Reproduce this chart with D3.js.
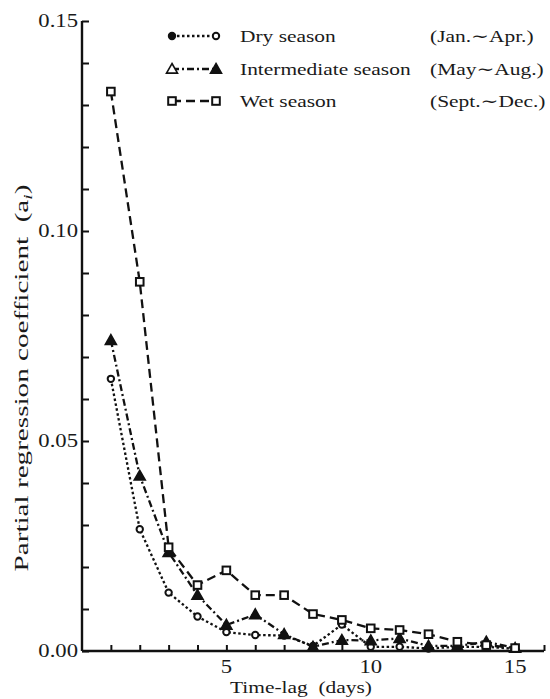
<!DOCTYPE html>
<html>
<head>
<meta charset="utf-8">
<script src="https://cdn.jsdelivr.net/npm/d3@7"></script>
<style>
  body { margin: 0; background: #fff; }
  text { font-family: "Liberation Serif", "DejaVu Serif", serif; fill: #1a1a1a; }
</style>
</head>
<body>
<div id="chart"></div>
<script>

// Time-lag in days
var lags = [1, 2, 3, 4, 5, 6, 7, 8, 9, 10, 11, 12, 13, 14, 15];

// Partial regression coefficients
var drySeason = [0.0648, 0.0290, 0.0139, 0.0082, 0.0045, 0.0038, 0.0037, 0.0012, 0.0063, 0.0010, 0.0010, 0.0006, 0.0010, 0.0010, 0.0005];
var interSeason = [0.0740, 0.0417, 0.0235, 0.0133, 0.0062, 0.0087, 0.0040, 0.0010, 0.0026, 0.0025, 0.0030, 0.0012, 0.0012, 0.0022, 0.0007];
var wetSeason = [0.1332, 0.0879, 0.0247, 0.0157, 0.0192, 0.0133, 0.0133, 0.0088, 0.0074, 0.0054, 0.0050, 0.0040, 0.0022, 0.0014, 0.0007];

var seriesNames = ["Dry season", "Intermediate season", "Wet season"];
var seriesMonths = ["(Jan.\u223CApr.)", "(May\u223CAug.)", "(Sept.\u223CDec.)"];

var yTickLabels = [0.00, 0.05, 0.10, 0.15];
var xTickLabels = [5, 10, 15];

var width = 550,
    height = 699;

// The printed type is wide, so stretch text horizontally a bit
var stretch = 1.26;

var svg = d3.select("#chart").append("svg")
  .attr("width", width)
  .attr("height", height);

// Scales: axis origin at bottom left of the plot
var x = d3.scaleLinear().domain([0, 16]).range([82, 544]);
var y = d3.scaleLinear().domain([0, 0.15]).range([651, 21]);

// Line styles per series
var styles = [
  { values: drySeason, dash: "2.5,2.5", marker: "circle" },
  { values: interSeason, dash: "7,3,2,3", marker: "triangle" },
  { values: wetSeason, dash: "9,5", marker: "square" }
];

// Put a horizontally stretched label at (px, py)
function label(parent, px, py, str, size, anchor) {
  return parent.append("g")
    .attr("transform", "translate(" + px + "," + py + ") scale(" + stretch + ",1)")
    .append("text")
    .attr("text-anchor", anchor || "start")
    .style("font-size", size + "px")
    .text(str);
}

// Axes
var yAxis = svg.append("g")
  .attr("transform", "translate(" + x(0) + ",0)")
  .call(d3.axisRight(y)
    .tickValues(d3.range(0, 0.1501, 0.01))
    .tickSize(7)
    .tickFormat(""));

var xAxis = svg.append("g")
  .attr("transform", "translate(0," + y(0) + ")")
  .call(d3.axisTop(x)
    .tickValues(d3.range(1, 17))
    .tickSize(6)
    .tickFormat(""));

svg.selectAll(".domain")
  .attr("stroke", "#111")
  .attr("stroke-width", 2.4);
svg.selectAll(".tick line")
  .attr("stroke", "#111")
  .attr("stroke-width", 2);

// Plain axis lines, no outer ticks
yAxis.select(".domain").attr("d", "M0," + y(0.15) + "V" + y(0));
xAxis.select(".domain").attr("d", "M" + x(0) + ",0H" + x(16));

// Tick labels
var tl = svg.append("g");
yTickLabels.forEach(function(d) {
  label(tl, x(0) - 4, y(d) + 6, d.toFixed(2), 18, "end");
});
xTickLabels.forEach(function(d) {
  label(tl, x(d), y(0) + 22, d, 18, "middle");
});

// Axis titles
label(svg, 301, 693, "Time-lag\u00A0\u00A0(days)", 17, "middle");

var ylab = svg.append("text")
  .attr("text-anchor", "middle")
  .style("font-size", "18px");
ylab.append("tspan").text("Partial regression coefficient\u00A0\u00A0(a");
ylab.append("tspan").attr("font-style", "italic").attr("dy", 4).style("font-size", "12px").text("i");
ylab.append("tspan").attr("dy", -4).text(")");
// stretch along the text so it covers the same span as the print
var ylen = ylab.node().getComputedTextLength();
ylab.attr("transform", "translate(28,378) rotate(-90) scale(" + (387 / ylen) + ",1)");

// Marker drawing helper
function drawMarker(g, type, cx, cy, filled) {
  if (type == "circle") {
    g.append("circle")
      .attr("cx", cx).attr("cy", cy).attr("r", 3.2)
      .attr("fill", filled ? "#111" : "#fff")
      .attr("stroke", "#111").attr("stroke-width", 2);
  } else if (type == "triangle") {
    var s = 5.5;
    g.append("path")
      .attr("d", "M" + cx + "," + (cy - s) + "L" + (cx + s) + "," + (cy + s * 0.75) + "L" + (cx - s) + "," + (cy + s * 0.75) + "Z")
      .attr("fill", filled ? "#111" : "#fff")
      .attr("stroke", "#111").attr("stroke-width", 1.6);
  } else {
    g.append("rect")
      .attr("x", cx - 3.8).attr("y", cy - 3.8)
      .attr("width", 7.6).attr("height", 7.6)
      .attr("fill", filled ? "#111" : "#fff")
      .attr("stroke", "#111").attr("stroke-width", 2);
  }
}

var line = d3.line()
  .x((d, i) => x(lags[i]))
  .y(d => y(d));

// Draw series lines, then markers on top
styles.forEach(function(s) {
  svg.append("path")
    .datum(s.values)
    .attr("d", line)
    .attr("fill", "none")
    .attr("stroke", "#111")
    .attr("stroke-width", 2.3)
    .attr("stroke-dasharray", s.dash);
});

styles.forEach(function(s) {
  var g = svg.append("g");
  s.values.forEach(function(v, i) {
    drawMarker(g, s.marker, x(lags[i]), y(v), s.marker == "triangle");
  });
});

// Legend
var legend = svg.append("g");
var legendY = [36, 69, 101];

styles.forEach(function(s, idx) {
  var ly = legendY[idx];
  legend.append("line")
    .attr("x1", 172).attr("x2", 216)
    .attr("y1", ly).attr("y2", ly)
    .attr("stroke", "#111")
    .attr("stroke-width", 2.3)
    .attr("stroke-dasharray", s.dash);
  drawMarker(legend, s.marker, 172, ly, idx == 0);
  drawMarker(legend, s.marker, 216, ly, idx == 1);

  label(legend, 240, ly + 6, seriesNames[idx], 17);
  label(legend, 430, ly + 6, seriesMonths[idx], 17);
});

</script>
</body>
</html>
